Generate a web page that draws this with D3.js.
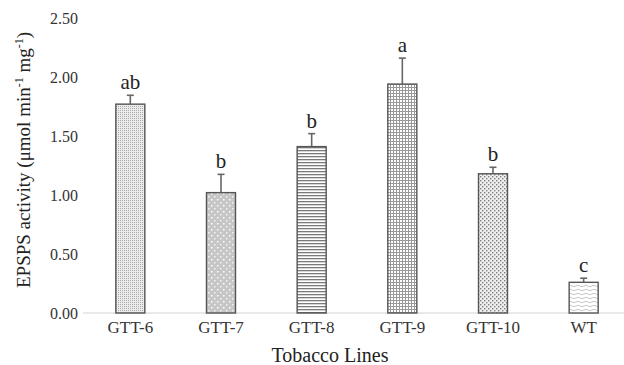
<!DOCTYPE html>
<html>
<head>
<meta charset="utf-8">
<script src="https://cdn.jsdelivr.net/npm/d3@7"></script>
<style>
  body { margin: 0; background: #fff; }
  svg { display: block; font-family: "Liberation Serif", "Times New Roman", serif; }
</style>
</head>
<body>
<svg id="chart" width="624" height="365"></svg>
<script>
const lines = ['GTT-6', 'GTT-7', 'GTT-8', 'GTT-9', 'GTT-10', 'WT'];
const means = [1.77, 1.02, 1.41, 1.94, 1.18, 0.26];
const errors = [0.075, 0.155, 0.11, 0.22, 0.055, 0.035];
const letters = ['ab', 'b', 'b', 'a', 'b', 'c'];
const yTicks = [0, 0.5, 1.0, 1.5, 2.0, 2.5];
const patterns = ['p6', 'p7', 'p8', 'p9', 'p10', 'pwt'];

const serif = '"Liberation Serif", "Times New Roman", serif';
const svg = d3.select('#chart');

// fills roughly copied from the excel-style hatches
let defs = svg.append('defs');
function pattern(id, w, h) {
  return defs.append('pattern')
    .attr('id', id)
    .attr('patternUnits', 'userSpaceOnUse')
    .attr('width', w)
    .attr('height', h);
}
let p = pattern('p6', 2, 2);
p.append('rect').attr('width', 2).attr('height', 2).attr('fill', '#ececec');
p.append('rect').attr('width', 1).attr('height', 1).attr('fill', '#a8a8a8');

p = pattern('p7', 6, 6);
p.append('rect').attr('width', 6).attr('height', 6).attr('fill', '#c6c6c6');
p.append('rect').attr('x', 1).attr('y', 1).attr('width', 1.5).attr('height', 1.5).attr('fill', '#fff');
p.append('rect').attr('x', 4).attr('y', 4).attr('width', 1.5).attr('height', 1.5).attr('fill', '#f4f4f4');

p = pattern('p8', 4, 3);
p.append('rect').attr('width', 4).attr('height', 3).attr('fill', '#fff');
p.append('rect').attr('width', 4).attr('height', 1.3).attr('fill', '#7a7a7a');

p = pattern('p9', 3, 3);
p.append('rect').attr('width', 3).attr('height', 3).attr('fill', '#fff');
p.append('rect').attr('width', 3).attr('height', 1).attr('fill', '#999');
p.append('rect').attr('width', 1).attr('height', 3).attr('fill', '#999');

p = pattern('p10', 4, 4);
p.append('rect').attr('width', 4).attr('height', 4).attr('fill', '#eeeeee');
p.append('rect').attr('width', 1.4).attr('height', 1.4).attr('fill', '#808080');
p.append('rect').attr('x', 2).attr('y', 2).attr('width', 1.4).attr('height', 1.4).attr('fill', '#808080');

p = pattern('pwt', 8, 4);
p.append('rect').attr('width', 8).attr('height', 4).attr('fill', '#fff');
p.append('path')
  .attr('d', 'M0,2 Q2,0.6 4,2 T8,2')
  .attr('fill', 'none')
  .attr('stroke', '#b8b8b8')
  .attr('stroke-width', 0.8);

const x = d3.scaleBand()
  .domain(lines)
  .range([85, 629])
  .paddingInner(0.68)
  .paddingOuter(0.34);

const y = d3.scaleLinear()
  .domain([0, 2.5])
  .range([313, 18]);

// y tick labels only, no axis line
svg.append('g')
  .attr('transform', 'translate(78,0)')
  .call(d3.axisLeft(y).tickValues(yTicks).tickFormat(d3.format('.2f')).tickSize(0).tickPadding(0))
  .call(g => g.select('.domain').remove())
  .selectAll('text')
  .attr('font-family', serif)
  .attr('font-size', 16)
  .attr('fill', '#333');

// baseline
svg.append('line')
  .attr('x1', 83).attr('x2', 624)
  .attr('y1', y(0)).attr('y2', y(0))
  .attr('stroke', '#d4d4d4')
  .attr('stroke-width', 1.2);

svg.selectAll('rect.bar')
  .data(lines)
  .join('rect')
  .attr('class', 'bar')
  .attr('x', d => x(d))
  .attr('y', (d, i) => y(means[i]))
  .attr('width', x.bandwidth())
  .attr('height', (d, i) => y(0) - y(means[i]))
  .attr('fill', (d, i) => `url(#${patterns[i]})`)
  .attr('stroke', '#555')
  .attr('stroke-width', 1.4);

// error bars (top half only)
let eb = svg.append('g').attr('stroke', '#666').attr('stroke-width', 1.6);
lines.forEach((d, i) => {
  let cx = x(d) + x.bandwidth() / 2;
  eb.append('line')
    .attr('x1', cx).attr('x2', cx)
    .attr('y1', y(means[i])).attr('y2', y(means[i] + errors[i]));
  eb.append('line')
    .attr('x1', cx - 3.5).attr('x2', cx + 3.5)
    .attr('y1', y(means[i] + errors[i])).attr('y2', y(means[i] + errors[i]));
});

svg.selectAll('text.sig')
  .data(lines)
  .join('text')
  .attr('class', 'sig')
  .attr('x', d => x(d) + x.bandwidth() / 2)
  .attr('y', (d, i) => y(means[i] + errors[i]) - 6)
  .attr('text-anchor', 'middle')
  .attr('font-size', 21)
  .attr('fill', '#222')
  .text((d, i) => letters[i]);

// x labels
svg.append('g')
  .attr('transform', `translate(0,${y(0)})`)
  .call(d3.axisBottom(x).tickSize(0).tickPadding(8))
  .call(g => g.select('.domain').remove())
  .selectAll('text')
  .attr('font-family', serif)
  .attr('font-size', 17)
  .attr('fill', '#333');

svg.append('text')
  .attr('x', 330)
  .attr('y', 362)
  .attr('text-anchor', 'middle')
  .attr('font-size', 20)
  .attr('fill', '#222')
  .text('Tobacco Lines');

let yt = svg.append('text')
  .attr('transform', 'translate(30,160) rotate(-90)')
  .attr('text-anchor', 'middle')
  .attr('font-size', 19)
  .attr('fill', '#222');
yt.append('tspan').text('EPSPS activity (μmol min');
yt.append('tspan').attr('dy', -7).attr('font-size', 12).text('-1');
yt.append('tspan').attr('dy', 7).text(' mg');
yt.append('tspan').attr('dy', -7).attr('font-size', 12).text('-1');
yt.append('tspan').attr('dy', 7).text(')');
</script>
</body>
</html>
